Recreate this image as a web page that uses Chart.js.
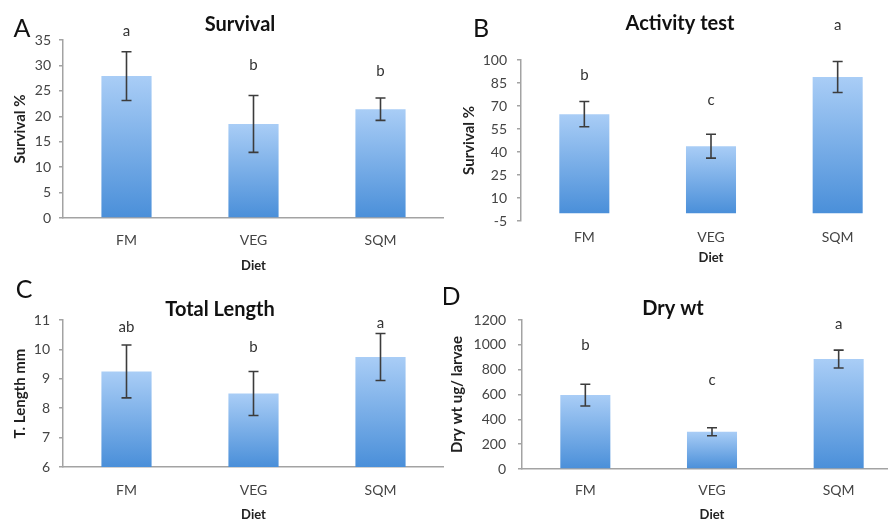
<!DOCTYPE html>
<html>
<head>
<meta charset="utf-8">
<title>Diet trial</title>
<script src="https://cdn.jsdelivr.net/npm/chart.js@4.4.0/dist/chart.umd.min.js"></script>
<style>
  html, body { margin: 0; padding: 0; background: #fff; overflow: hidden; }
  #wrap { position: relative; width: 888px; height: 523px; overflow: hidden; }
  #wrap canvas { position: absolute; }
</style>
</head>
<body>
<div id="wrap">
  <canvas id="chartA" width="444" height="275" style="left:0;top:0"></canvas>
  <canvas id="chartB" width="457" height="270" style="left:444px;top:0"></canvas>
  <canvas id="chartC" width="444" height="253" style="left:0;top:270px"></canvas>
  <canvas id="chartD" width="458" height="253" style="left:444px;top:270px"></canvas>
</div>

<script>
// data
const diets = ['FM', 'VEG', 'SQM'];

const survivalMean = [27.9, 18.5, 21.4];
const survivalErr = [4.8, 5.6, 2.2];
const survivalLetters = ['a', 'b', 'b'];
const survivalLetterAt = [36.8, 30.1, 28.9];
const survivalAxis = [0, 35, 5];   // min, max, step

const activityMean = [64.7, 43.8, 88.9];
const activityErr = [8.2, 7.8, 10.1];
const activityLetters = ['b', 'c', 'a'];
const activityLetterAt = [90.2, 73.9, 122.9];
const activityAxis = [-5, 100, 15];

const lengthMean = [9.25, 8.5, 9.74];
const lengthErr = [0.9, 0.75, 0.8];
const lengthLetters = ['ab', 'b', 'a'];
const lengthLetterAt = [10.75, 10.08, 10.9];
const lengthAxis = [6, 11, 1];

const dryMean = [595, 300, 885];
const dryErr = [88, 32, 72];
const dryLetters = ['b', 'c', 'a'];
const dryLetterAt = [998, 716, 1167];
const dryAxis = [0, 1200, 200];

const FONT = 'Lato';
const AXIS_GREY = '#a3a3a3';

// error bars, significance letters, panel title and panel letter
const decor = {
    id: 'decor',
    afterDatasetsDraw(chart, args, opts) {
        const ctx = chart.ctx;
        const y = chart.scales.y;
        const meta = chart.getDatasetMeta(0);
        const vals = chart.data.datasets[0].data;
        ctx.save();
        ctx.lineWidth = 1.6;
        ctx.strokeStyle = '#3c3c3c';
        ctx.textAlign = 'center';
        ctx.textBaseline = 'middle';
        meta.data.forEach((bar, i) => {
            const yt = y.getPixelForValue(vals[i] + opts.err[i]);
            const yb = y.getPixelForValue(vals[i] - opts.err[i]);
            ctx.beginPath();
            ctx.moveTo(bar.x, yt); ctx.lineTo(bar.x, yb);
            ctx.moveTo(bar.x - 5, yt); ctx.lineTo(bar.x + 5, yt);
            ctx.moveTo(bar.x - 5, yb); ctx.lineTo(bar.x + 5, yb);
            ctx.stroke();
            ctx.fillStyle = '#333';
            ctx.font = '15px ' + FONT;
            ctx.fillText(opts.letters[i], bar.x, y.getPixelForValue(opts.letterAt[i]));
        });
        ctx.fillStyle = '#111';
        ctx.font = 'bold 20px ' + FONT;
        ctx.fillText(opts.title, opts.titleX, opts.titleY);
        ctx.font = '25px ' + FONT;
        ctx.fillText(opts.panel, opts.panelX, opts.panelY);
        ctx.restore();
    }
};

// per-bar vertical gradient, light at the top
function barFill(c) {
    const chart = c.chart;
    if (!chart.chartArea || c.type !== 'data') return '#7fb0e8';
    const y = chart.scales.y;
    const top = y.getPixelForValue(c.raw);
    const base = y.getPixelForValue(Math.max(y.min, 0));
    const g = chart.ctx.createLinearGradient(0, top, 0, base);
    g.addColorStop(0, '#a9cdf6');
    g.addColorStop(1, '#4a8fd9');
    return g;
}

function makePanel(id, p) {
    const zeroLine = p.axis[0] < 0;
    new Chart(document.getElementById(id), {
        type: 'bar',
        data: {
            labels: diets,
            datasets: [{
                data: p.mean,
                backgroundColor: barFill,
                borderWidth: 0,
                categoryPercentage: 1,
                barPercentage: 0.395
            }]
        },
        options: {
            responsive: false,
            animation: false,
            layout: { padding: { top: p.top, right: 0, bottom: 0, left: 0 } },
            plugins: {
                legend: { display: false },
                tooltip: { enabled: false },
                decor: {
                    err: p.err, letters: p.letters, letterAt: p.letterAt,
                    title: p.title, titleX: p.titleX, titleY: p.titleY,
                    panel: p.panel, panelX: p.panelX, panelY: p.panelY
                }
            },
            scales: {
                x: {
                    afterFit: s => { s.height = p.xh; },
                    grid: { display: false, drawTicks: false },
                    border: { display: !zeroLine, color: AXIS_GREY, width: 1.5 },
                    ticks: { padding: p.xpad, color: '#444', font: { family: FONT, size: 14 } },
                    title: { display: true, text: 'Diet', color: '#222',
                             padding: { top: 0, bottom: p.dietPad },
                             font: { family: FONT, size: 13, weight: 'bold' } }
                },
                y: {
                    min: p.axis[0], max: p.axis[1],
                    afterFit: s => { s.width = p.left; },
                    ticks: { stepSize: p.axis[2], padding: p.ypad, color: '#444',
                             callback: v => String(v),
                             font: { family: FONT, size: 14 } },
                    grid: {
                        drawOnChartArea: zeroLine,
                        color: c => (c.tick && c.tick.value === 0) ? AXIS_GREY : 'rgba(0,0,0,0)',
                        lineWidth: 1.5,
                        tickLength: 4,
                        tickColor: AXIS_GREY
                    },
                    border: { display: true, color: AXIS_GREY, width: 1.5 },
                    title: { display: true, text: p.ytitle, color: '#222',
                             padding: { top: p.ytpad, bottom: 0 },
                             font: { family: FONT, size: 15, weight: 'bold' } }
                }
            }
        },
        plugins: [decor]
    });
}

makePanel('chartA', {
    mean: survivalMean, err: survivalErr, letters: survivalLetters, letterAt: survivalLetterAt,
    axis: survivalAxis, ytitle: 'Survival %', title: 'Survival', panel: 'A',
    titleX: 240, titleY: 25, panelX: 22, panelY: 29,
    left: 63, top: 40, xh: 57, xpad: 13.6, dietPad: 1, ypad: 8, ytpad: 11
});

makePanel('chartB', {
    mean: activityMean, err: activityErr, letters: activityLetters, letterAt: activityLetterAt,
    axis: activityAxis, ytitle: 'Survival %', title: 'Activity test', panel: 'B',
    titleX: 236, titleY: 24, panelX: 37, panelY: 29,
    left: 77, top: 60, xh: 49, xpad: 7.6, dietPad: 4, ypad: 10, ytpad: 16
});

makePanel('chartC', {
    mean: lengthMean, err: lengthErr, letters: lengthLetters, letterAt: lengthLetterAt,
    axis: lengthAxis, ytitle: 'T. Length mm', title: 'Total Length', panel: 'C',
    titleX: 220, titleY: 40, panelX: 24, panelY: 20,
    left: 63, top: 50, xh: 56, xpad: 14.6, dietPad: 0, ypad: 9, ytpad: 11
});

makePanel('chartD', {
    mean: dryMean, err: dryErr, letters: dryLetters, letterAt: dryLetterAt,
    axis: dryAxis, ytitle: 'Dry wt ug/ larvae', title: 'Dry wt', panel: 'D',
    titleX: 229, titleY: 39, panelX: 7, panelY: 27,
    left: 78, top: 50, xh: 54, xpad: 12.6, dietPad: 0, ypad: 12, ytpad: 4
});
</script>
</body>
</html>
